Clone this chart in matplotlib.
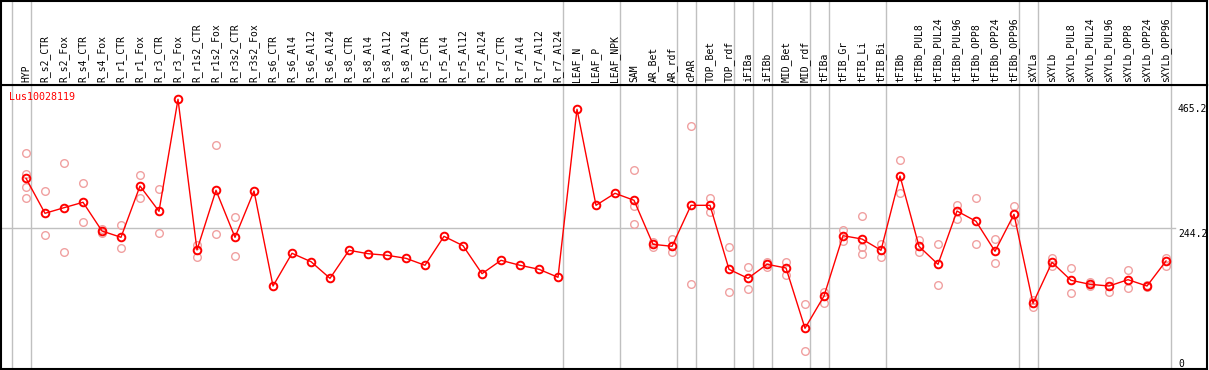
import numpy as np
import matplotlib.pyplot as plt

# sample names (one column each)
labels = ["HYP", "R_s2_CTR", "R_s2_Fox", "R_s4_CTR", "R_s4_Fox", "R_r1_CTR", "R_r1_Fox",
          "R_r3_CTR", "R_r3_Fox", "R_r1s2_CTR", "R_r1s2_Fox", "R_r3s2_CTR", "R_r3s2_Fox",
          "R_s6_CTR", "R_s6_Al4", "R_s6_Al12", "R_s6_Al24", "R_s8_CTR", "R_s8_Al4",
          "R_s8_Al12", "R_s8_Al24", "R_r5_CTR", "R_r5_Al4", "R_r5_Al12", "R_r5_Al24",
          "R_r7_CTR", "R_r7_Al4", "R_r7_Al12", "R_r7_Al24", "LEAF_N", "LEAF_P", "LEAF_NPK",
          "SAM", "AR_Bet", "AR_rdf", "cPAR", "TOP_Bet", "TOP_rdf", "iFIBa", "iFIBb",
          "MID_Bet", "MID_rdf", "tFIBa", "tFIB_Gr", "tFIB_Li", "tFIB_Bi", "tFIBb",
          "tFIBb_PUL8", "tFIBb_PUL24", "tFIBb_PUL96", "tFIBb_OPP8", "tFIBb_OPP24",
          "tFIBb_OPP96", "sXYLa", "sXYLb", "sXYLb_PUL8", "sXYLb_PUL24", "sXYLb_PUL96",
          "sXYLb_OPP8", "sXYLb_OPP24", "sXYLb_OPP96"]

# mean expression per sample
means = [332.1, 270.8, 280.6, 290.1, 239.8, 228.8, 318.6, 274.3, 470.4, 206.6,
         311.1, 228.8, 309.8, 143.5, 200.8, 186.1, 157.0, 206.0, 200.1, 197.3,
         192.0, 179.8, 230.5, 214.1, 165.1, 188.5, 179.8, 172.8, 158.8, 452.9,
         284.8, 305.8, 293.6, 216.5, 213.0, 284.8, 284.8, 172.8, 157.0, 181.5,
         175.1, 69.5, 126.0, 231.6, 225.8, 206.0, 336.1, 213.0, 181.5, 274.8,
         256.8, 204.3, 269.1, 113.3, 185.0, 153.5, 146.5, 143.5, 154.6, 143.5,
         187.3]

# individual replicates (empty where none shown)
replicates = [
    [375.8, 339.6, 317.4, 297.1], [309.8, 232.3], [358.3, 202.5], [323.3, 255.0],
    [242.8, 235.8], [249.8, 209.5], [337.3, 297.1], [312.8, 235.8], [],
    [215.3, 194.8], [389.8, 234.0], [263.8, 195.5], [],
    [], [], [], [], [], [], [], [], [], [], [], [], [], [], [], [],
    [], [], [],
    [346.1, 284.1, 251.5], [221.1, 212.3], [225.8, 202.5], [423.1, 146.5],
    [297.1, 273.6], [211.8, 132.5], [176.3, 138.3], [185.6, 177.3],
    [185.6, 163.3], [111.5, 29.8], [132.5, 113.3], [241.6, 222.8],
    [265.6, 212.3, 200.1], [217.6, 194.8], [364.1, 305.8],
    [224.1, 202.5], [216.5, 145.3], [285.3, 261.4], [297.1, 216.5],
    [225.3, 183.3], [283.1, 255.6], [119.0, 107.3], [192.0, 178.6],
    [174.5, 130.8], [150.0, 143.5], [152.8, 132.5], [171.5, 140.6],
    [145.3, 141.3], [193.1, 179.1],
]

# columns after which a group separator is drawn
group_ends = [-1, 0, 28, 31, 34, 35, 37, 38, 39, 41, 42, 45, 52, 53, 60]

gene = "Lus10028119"
ref_values = [465.2, 244.2, 0]

W, H = 1209, 370
fig = plt.figure(figsize=(W / 100, H / 100), dpi=100)

x0, x1 = -25 / 19, 1181 / 19
ymin, ymax = -1.75, 495.4

ax = fig.add_axes([1 / W, 1 / H, 1206 / W, 284 / H])
hd = fig.add_axes([1 / W, 285 / H, 1206 / W, 84.5 / H])

for a in (ax, hd):
    a.set_xlim(x0, x1)
    a.set_xticks([])
    a.set_yticks([])
    for s in a.spines.values():
        s.set_color("black")
        s.set_linewidth(1.5)
hd.set_ylim(0, 1)
ax.set_ylim(ymin, ymax)

gray = "#c0c0c0"
for g in group_ends:
    ax.axvline(g + 0.24, color=gray, lw=1, zorder=1)
    hd.axvline(g + 0.24, color=gray, lw=1, zorder=1)
ax.plot([x0, (1175 - 26) / 19], [244.2, 244.2], color=gray, lw=1, zorder=1)

xs = np.arange(len(labels))

# replicates
for i, reps in enumerate(replicates):
    if reps:
        ax.plot([i] * len(reps), reps, "o", ms=5.5, mfc="none", mec="#f0a0a0",
                mew=1.0, ls="none", zorder=2)

ax.plot(xs, means, color="red", lw=1, marker="o", ms=5.5, mfc="none",
        mec="red", mew=1.4, zorder=3)

# header labels
for i, lab in enumerate(labels):
    hd.text(i, 0.03, lab, rotation=90, ha="center", va="bottom",
            family="DejaVu Sans Mono", fontsize=7, color="black")

ax.text(x0 + 8 / 19, ymax - 12 * 1.7505, gene, color="red", ha="left", va="center",
        family="DejaVu Sans Mono", fontsize=7.2)

# reference values on the right
ypix = {465.2: 104, 244.2: 229, 0: 359}
for v in ref_values:
    ax.text((1178 - 26) / 19, (368 - ypix[v]) * 1.7505, str(v), ha="left", va="top",
            family="DejaVu Sans Mono", fontsize=7, color="black", clip_on=True)

fig.savefig("out.png", dpi=100)
